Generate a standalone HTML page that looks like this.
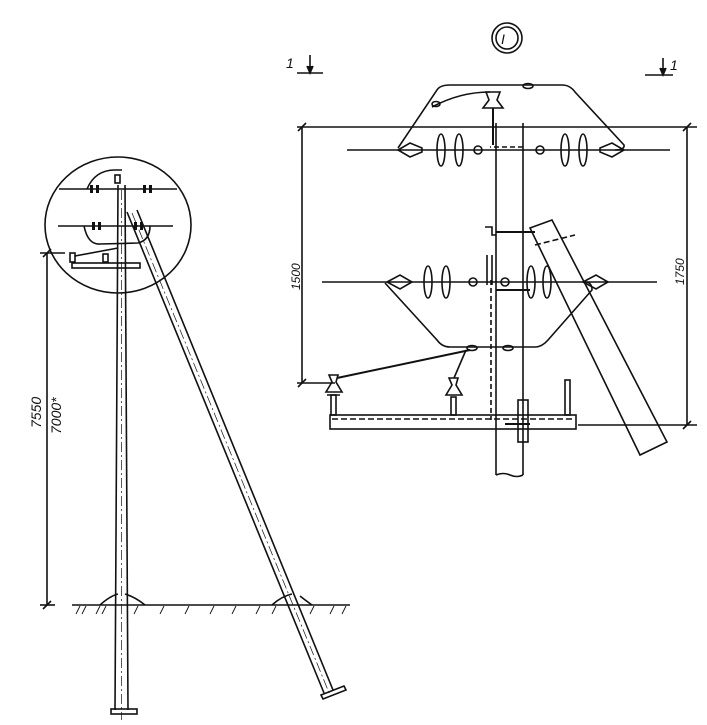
<!DOCTYPE html>
<html><head><meta charset="utf-8"><style>
html,body{margin:0;padding:0;background:#fff}
svg{display:block}
text{font-family:"Liberation Sans",sans-serif;font-style:italic;fill:#111}
</style></head><body>
<svg width="707" height="725" viewBox="0 0 707 725" xmlns="http://www.w3.org/2000/svg" fill="none" stroke="#111" stroke-width="1.6">
<!-- LEFT OVERVIEW -->
<ellipse cx="118" cy="225" rx="73" ry="68"/>
<line x1="118" y1="185" x2="115" y2="710"/>
<line x1="125" y1="185" x2="128" y2="710"/>
<line x1="121.5" y1="190" x2="121.5" y2="720" stroke-width="0.7" stroke-dasharray="10,3,2,3"/>
<rect x="111" y="709" width="26" height="5"/>
<line x1="127" y1="212" x2="324" y2="693"/>
<line x1="137" y1="210" x2="333" y2="690"/>
<line x1="132" y1="213" x2="330" y2="695" stroke-width="0.7" stroke-dasharray="10,3,2,3"/>
<polygon points="321,695 344,686 346,690 323,699"/>
<line x1="59" y1="189" x2="177" y2="189"/>
<line x1="58" y1="226" x2="173" y2="226"/>
<path d="M87,189 Q95,170 115,170 L122,170"/>
<path d="M84,226 Q88,245 100,244 L138,243 Q150,240 150,226"/>
<g fill="#111" stroke="none">
<rect x="90" y="185" width="3" height="8"/><rect x="96" y="185" width="3" height="8"/>
<rect x="143" y="185" width="3" height="8"/><rect x="149" y="185" width="3" height="8"/>
<rect x="92" y="222" width="3" height="8"/><rect x="98" y="222" width="3" height="8"/>
<rect x="134" y="222" width="3" height="8"/><rect x="140" y="222" width="3" height="8"/>
</g>
<rect x="115" y="175" width="5" height="8"/>
<rect x="72" y="263" width="68" height="5"/>
<rect x="70" y="253" width="5" height="9"/>
<rect x="103" y="254" width="5" height="8"/>
<line x1="75" y1="256" x2="118" y2="248"/>
<line x1="47" y1="253" x2="47" y2="605"/>
<line x1="40" y1="253" x2="65" y2="253"/>
<line x1="40" y1="605" x2="55" y2="605"/>
<line x1="43" y1="257" x2="51" y2="249"/>
<line x1="43" y1="609" x2="51" y2="601"/>
<text transform="translate(41,428) rotate(-90)" font-size="14" stroke="none">7550</text>
<text transform="translate(61,434) rotate(-90)" font-size="14" stroke="none">7000*</text>
<line x1="72" y1="605" x2="350" y2="605"/>
<path d="M100,605 Q110,596 118,594 M125,594 Q135,597 145,605"/>
<path d="M272,605 Q282,596 292,594 M300,596 Q305,600 312,605"/>
<g stroke-width="0.9">
<line x1="76" y1="614" x2="80" y2="606"/><line x1="82" y1="614" x2="86" y2="606"/>
<line x1="96" y1="614" x2="100" y2="606"/><line x1="102" y1="614" x2="106" y2="606"/>
<line x1="134" y1="614" x2="138" y2="606"/><line x1="160" y1="614" x2="164" y2="606"/>
<line x1="185" y1="614" x2="189" y2="606"/><line x1="210" y1="614" x2="214" y2="606"/>
<line x1="232" y1="614" x2="236" y2="606"/><line x1="256" y1="614" x2="260" y2="606"/>
<line x1="272" y1="614" x2="276" y2="606"/><line x1="310" y1="614" x2="314" y2="606"/>
<line x1="330" y1="614" x2="334" y2="606"/><line x1="342" y1="614" x2="346" y2="606"/>
</g>

<!-- RIGHT DETAIL -->
<circle cx="507" cy="38" r="15"/><circle cx="507" cy="38" r="11"/>
<text x="501" y="44" font-size="14" stroke="none">I</text>
<text x="286" y="68" font-size="14" stroke="none">1</text>
<line x1="297" y1="73" x2="323" y2="73"/><line x1="310" y1="55" x2="310" y2="73"/>
<path d="M307,66 L310,73 L313,66" fill="#111"/>
<line x1="645" y1="75" x2="673" y2="75"/><line x1="663" y1="58" x2="663" y2="75"/>
<path d="M660,68 L663,75 L666,68" fill="#111"/>
<text x="670" y="70" font-size="14" stroke="none">1</text>
<line x1="496" y1="123" x2="496" y2="475"/>
<line x1="523" y1="123" x2="523" y2="475"/>
<path d="M496,475 q7,-3 14,0 t13,0"/>
<line x1="491" y1="280" x2="491" y2="420" stroke-dasharray="5,3"/>
<line x1="297" y1="127" x2="697" y2="127"/>
<line x1="302" y1="127" x2="302" y2="383"/>
<line x1="297" y1="383" x2="335" y2="383"/>
<line x1="687" y1="127" x2="687" y2="425"/>
<line x1="578" y1="425" x2="697" y2="425"/>
<line x1="298" y1="131" x2="306" y2="123"/><line x1="298" y1="387" x2="306" y2="379"/>
<line x1="683" y1="131" x2="691" y2="123"/><line x1="683" y1="429" x2="691" y2="421"/>
<text transform="translate(300,290) rotate(-90)" font-size="12" stroke="none">1500</text>
<text transform="translate(684,285) rotate(-90)" font-size="12" stroke="none">1750</text>
<line x1="347" y1="150" x2="670" y2="150"/>
<path d="M398,148 L437,90 Q440,85 450,85 L562,85 Q570,85 575,92 L624,145 Q625,150 615,150"/>
<path d="M432,107 Q460,92 490,92"/>
<ellipse cx="436" cy="104" rx="4" ry="2.5"/>
<ellipse cx="528" cy="86" rx="5" ry="2.5"/>
<path d="M486,92 L500,92 L497,100 L503,108 L483,108 L489,100 Z"/>
<line x1="493" y1="108" x2="493" y2="145" stroke-width="2"/>
<path d="M398,150 L410,143 L422,148 L422,152 L410,157 Z"/>
<path d="M600,148 L612,143 L624,150 L612,157 L600,152 Z"/>
<ellipse cx="441" cy="150" rx="4" ry="16"/><ellipse cx="459" cy="150" rx="4" ry="16"/>
<ellipse cx="565" cy="150" rx="4" ry="16"/><ellipse cx="583" cy="150" rx="4" ry="16"/>
<circle cx="478" cy="150" r="4"/><circle cx="540" cy="150" r="4"/>
<line x1="523" y1="147" x2="490" y2="147" stroke-dasharray="5,3"/>
<path d="M485,227 L492,227 L492,235 L496,235"/>
<line x1="496" y1="232" x2="535" y2="232" stroke-width="2"/>
<polygon points="530,228 552,220 667,442 640,455"/>
<line x1="535" y1="245" x2="575" y2="235" stroke-dasharray="6,3"/>
<line x1="322" y1="282" x2="657" y2="282"/>
<path d="M385,283 L437,340 Q442,347 450,347 L535,347 Q542,347 548,340 L592,290 Q592,282 585,282"/>
<path d="M387,282 L400,275 L412,282 L400,289 Z"/>
<path d="M583,282 L596,275 L608,282 L596,289 Z"/>
<ellipse cx="428" cy="282" rx="4" ry="16"/><ellipse cx="446" cy="282" rx="4" ry="16"/>
<ellipse cx="531" cy="282" rx="4" ry="16"/><ellipse cx="547" cy="282" rx="4" ry="16"/>
<circle cx="473" cy="282" r="4"/><circle cx="505" cy="282" r="4"/>
<line x1="487" y1="255" x2="487" y2="285"/><line x1="492" y1="255" x2="492" y2="285"/>
<line x1="496" y1="290" x2="530" y2="290" stroke-width="2"/>
<ellipse cx="472" cy="348" rx="5" ry="2.5"/><ellipse cx="508" cy="348" rx="5" ry="2.5"/>
<rect x="330" y="415" width="246" height="14"/>
<line x1="332" y1="419" x2="574" y2="419" stroke-dasharray="6,3"/>
<rect x="518" y="400" width="10" height="42"/>
<line x1="505" y1="424" x2="530" y2="424" stroke-width="2"/>
<rect x="565" y="380" width="5" height="35"/>
<path d="M329,375 L338,375 L336,382 L342,392 L326,392 L332,382 Z M327,395 L340,395"/>
<rect x="331" y="395" width="5" height="20"/>
<path d="M449,378 L458,378 L456,385 L462,395 L446,395 L452,385 Z"/>
<rect x="451" y="397" width="5" height="18"/>
<line x1="337" y1="378" x2="470" y2="350" stroke-width="2"/>
<line x1="454" y1="378" x2="466" y2="350"/>
</svg>
</body></html>
